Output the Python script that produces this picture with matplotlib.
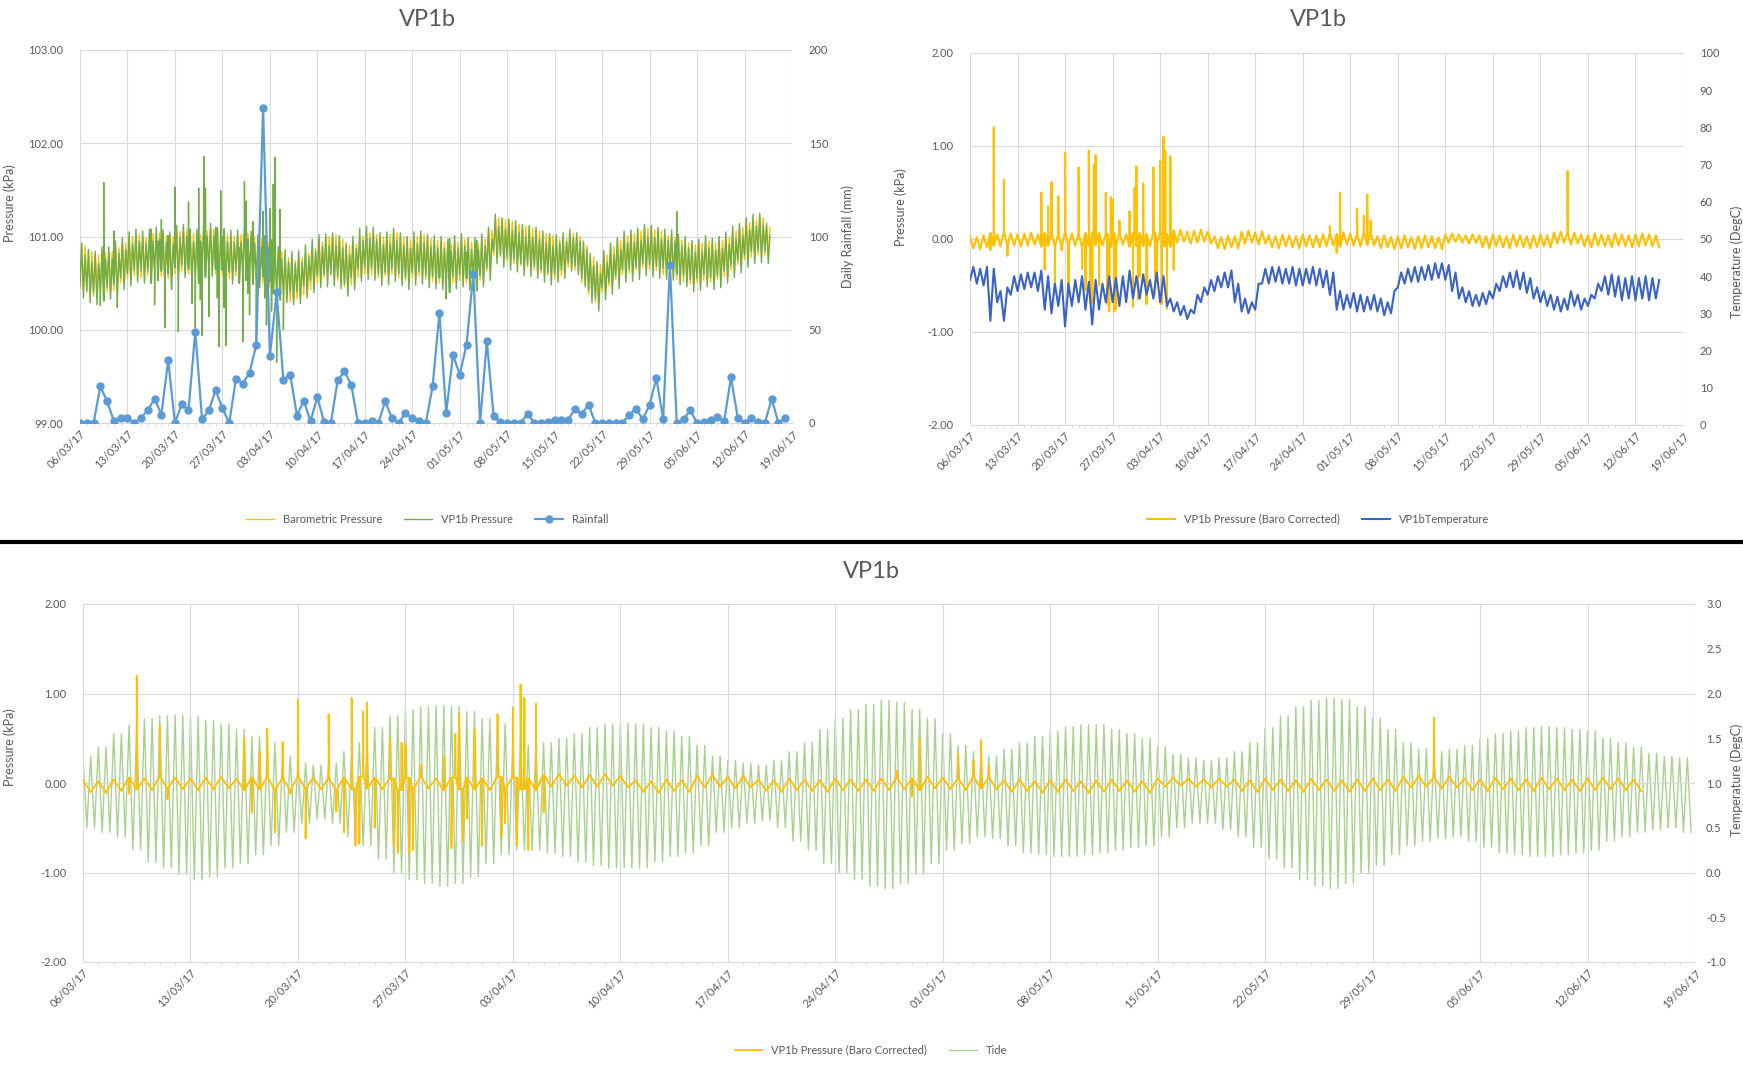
import numpy as np
import pandas as pd
import matplotlib
matplotlib.use("Agg")
import matplotlib.pyplot as plt
import matplotlib.dates as mdates
from matplotlib.ticker import FormatStrFormatter
from matplotlib.lines import Line2D

plt.rcParams["font.family"] = ["Lato", "DejaVu Sans"]

# ---- data (day 0 = 06/03/17) ----
start_date = "2017-03-06"

# daily rainfall (mm), days 0..104
rain_mm = [0, 0, 0, 19.6, 11.6, 1, 2.7, 2.7, 0, 2.7,
           7, 13, 4.5, 33.6, 0, 10, 6.8, 49, 2, 6.8,
           17.5, 8, 0, 23.6, 21, 27, 42, 169, 35.7, 70,
           22.9, 25.9, 4, 12, 1, 14, 0.4, 0, 23, 27.7,
           20.5, 0, 0, 1, 0, 11.6, 2.7, 0, 5.4, 2.7,
           1, 0, 19.6, 59, 5.4, 36.6, 26, 42, 80, 0,
           43.8, 3.6, 0.4, 0, 0, 0, 5, 0, 0, 0.4,
           1.8, 1.8, 1.8, 7.5, 5, 9.8, 0, 0, 0, 0,
           0, 4.5, 7.5, 2, 9.8, 24, 2, 84.8, 0, 2,
           6.8, 0, 0.4, 1.8, 3.2, 1, 24.6, 2.7, 0, 2.7,
           0.4, 0, 13, 0, 2.7]

# barometric pressure (kPa), daily low / high, days 0..101
baro_lo = [100.44, 100.40, 100.36, 100.38, 100.41, 100.42, 100.50, 100.55, 100.58, 100.56,
           100.58, 100.60, 100.57, 100.55, 100.60, 100.63, 100.60, 100.57, 100.62, 100.64,
           100.60, 100.58, 100.55, 100.58, 100.60, 100.56, 100.53, 100.50, 100.46, 100.40,
           100.33, 100.30, 100.33, 100.38, 100.43, 100.50, 100.56, 100.58, 100.53, 100.46,
           100.48, 100.56, 100.60, 100.58, 100.56, 100.58, 100.60, 100.56, 100.53, 100.56,
           100.58, 100.54, 100.52, 100.50, 100.48, 100.50, 100.53, 100.50, 100.48, 100.53,
           100.63, 100.80, 100.78, 100.74, 100.71, 100.69, 100.67, 100.64, 100.61, 100.59,
           100.55, 100.58, 100.67, 100.64, 100.50, 100.38, 100.30, 100.40, 100.47, 100.54,
           100.59, 100.61, 100.64, 100.67, 100.65, 100.64, 100.59, 100.57, 100.54, 100.51,
           100.49, 100.51, 100.53, 100.51, 100.54, 100.57, 100.64, 100.70, 100.75, 100.78,
           100.80, 100.80]
baro_hi = [100.90, 100.84, 100.80, 100.83, 100.84, 100.88, 100.93, 101.00, 101.02, 100.99,
           101.03, 101.04, 101.01, 101.00, 101.05, 101.07, 101.03, 101.02, 101.06, 101.08,
           101.04, 101.02, 101.00, 101.02, 101.04, 101.00, 100.97, 100.94, 100.90, 100.84,
           100.77, 100.74, 100.77, 100.82, 100.87, 100.94, 101.00, 101.02, 100.97, 100.90,
           100.92, 101.00, 101.04, 101.02, 101.00, 101.02, 101.04, 101.00, 100.97, 101.00,
           101.02, 100.98, 100.96, 100.94, 100.92, 100.94, 100.97, 100.94, 100.92, 100.97,
           101.07, 101.20, 101.18, 101.16, 101.13, 101.11, 101.09, 101.06, 101.03, 101.01,
           100.97, 100.98, 101.03, 101.00, 100.90, 100.78, 100.70, 100.80, 100.89, 100.96,
           101.01, 101.03, 101.06, 101.09, 101.07, 101.06, 101.01, 100.99, 100.96, 100.93,
           100.91, 100.93, 100.95, 100.93, 100.96, 100.99, 101.06, 101.10, 101.15, 101.18,
           101.20, 101.10]

# VP1b pressure, baro corrected (kPa): daily high / low, days 0..101
corr_hi = [0.03, 0.02, 0.04,
           0.06, 0.05, 0.07, 0.06, 0.05, 0.06, 0.07, 0.05, 0.06, 0.06, 0.05, 0.07, 0.06, 0.05,
           0.06, 0.07, 0.06, 0.05, 0.06, 0.07, 0.05, 0.06, 0.06, 0.05, 0.07, 0.06, 0.05,
           0.09, 0.10, 0.08, 0.09, 0.10, 0.08,
           0.03, 0.02, 0.04, 0.03,
           0.08, 0.09, 0.07, 0.08,
           0.04, 0.03, 0.05, 0.04, 0.03, 0.05, 0.04, 0.04, 0.05,
           0.06, 0.05, 0.07, 0.06, 0.05, 0.07, 0.06,
           0.03, 0.04, 0.02, 0.03, 0.04, 0.02, 0.03, 0.04, 0.03, 0.02,
           0.05, 0.06, 0.05, 0.04, 0.05,
           0.04, 0.03, 0.05, 0.04, 0.03, 0.05, 0.04, 0.03, 0.04, 0.05, 0.04,
           0.07, 0.08, 0.06, 0.07,
           0.05, 0.04, 0.06, 0.05, 0.04, 0.06, 0.05, 0.04, 0.05, 0.06, 0.05, 0.04]
corr_lo = [-0.10, -0.11, -0.09,
           -0.07, -0.08, -0.06, -0.07, -0.08, -0.07, -0.06, -0.08, -0.07, -0.07, -0.08, -0.06,
           -0.07, -0.08, -0.07, -0.06, -0.07, -0.08, -0.07, -0.06, -0.08, -0.07, -0.07, -0.08,
           -0.06, -0.07, -0.08,
           -0.04, -0.03, -0.05, -0.04, -0.03, -0.05,
           -0.10, -0.11, -0.09, -0.10,
           -0.05, -0.04, -0.06, -0.05,
           -0.09, -0.10, -0.08, -0.09, -0.10, -0.08, -0.09, -0.09, -0.08,
           -0.07, -0.08, -0.06, -0.07, -0.08, -0.06, -0.07,
           -0.10, -0.09, -0.11, -0.10, -0.09, -0.11, -0.10, -0.09, -0.10, -0.11,
           -0.04, -0.03, -0.04, -0.05, -0.04,
           -0.09, -0.10, -0.08, -0.09, -0.10, -0.08, -0.09, -0.10, -0.09, -0.08, -0.09,
           -0.05, -0.04, -0.06, -0.05,
           -0.08, -0.09, -0.07, -0.08, -0.09, -0.07, -0.08, -0.09, -0.08, -0.07, -0.08, -0.09]

# logger spikes in the corrected record: (day, kPa)
corr_spikes = [(3.0, -0.12), (3.5, 1.20), (5.0, 0.64), (5.5, -0.18),
               (10.5, 0.50), (11.0, -0.33), (11.5, 0.35), (12.0, 0.61), (12.5, -0.55),
               (13.0, 0.46), (13.5, -0.12), (14.0, 0.93), (14.5, -0.62),
               (16.0, 0.77), (16.5, -0.32), (17.0, -0.55), (17.5, 0.95), (17.75, -0.70),
               (18.0, -0.68), (18.25, 0.80), (18.5, 0.90), (19.0, -0.50),
               (20.0, 0.50), (20.25, -0.70), (20.5, -0.78), (20.75, 0.45), (21.0, 0.42),
               (21.25, -0.78), (21.5, -0.75), (22.0, 0.20), (23.5, 0.30), (24.0, -0.73),
               (24.25, 0.55), (24.5, 0.78), (24.75, -0.65), (25.0, -0.40), (25.5, 0.60),
               (26.0, -0.70), (27.0, 0.77), (27.25, -0.60), (27.5, -0.45), (28.0, 0.84),
               (28.25, -0.70), (28.5, 1.10), (28.75, 0.95), (29.0, -0.75), (29.5, 0.89),
               (30.0, -0.33),
               (53.0, 0.14), (54.0, -0.15), (54.5, 0.50), (57.0, 0.33), (58.0, 0.25),
               (58.5, 0.48), (59.0, 0.20), (88.0, 0.73)]

# VP1b temperature (DegC): daily low / high, days 0..101
temp_lo = [39, 38, 37.5, 28, 33, 28, 35, 36, 36.5, 37,
           36, 31, 30, 32, 26.5, 32, 33, 31, 27, 31,
           33, 33, 32, 33, 34, 34, 35, 34, 33, 32,
           30.5, 29.5, 28.5, 30, 33, 35, 36, 37, 37, 33,
           30.5, 30, 31, 38, 38, 38.5, 38, 38, 37.5, 37.5,
           38, 37.5, 37, 35, 31, 31, 31.5, 30.5, 30.5, 31,
           30.5, 29.5, 30, 37, 38, 38.5, 38.5, 39, 39, 39.5,
           39, 36, 34, 33, 32, 32, 32.5, 34, 36, 37,
           37, 36.5, 35.5, 34, 33, 32, 31, 30.5, 31, 32,
           31, 32, 34, 36, 35, 34.5, 33.5, 34, 33.5, 34,
           33.5, 34]
temp_hi = [42.5, 42, 42.5, 42, 36, 37, 40, 40.5, 41, 41,
           41.5, 40, 38, 39, 38, 39, 40, 38.5, 39, 38,
           40, 39.5, 40, 41.5, 40, 40.5, 39, 41, 40, 34,
           33, 32, 31, 35, 37, 39, 40, 41, 41.5, 38,
           34, 33, 38, 42, 42.5, 42.5, 42, 42.5, 42, 42,
           42.5, 42, 41.5, 41, 36, 35, 35.5, 35, 34.5, 35,
           34, 33, 36, 41, 42, 42.5, 42.5, 43, 43.5, 43.5,
           43, 41, 37, 36, 35, 35.5, 36, 38, 40, 41,
           41.5, 41, 39.5, 37, 36, 35, 34.5, 34, 36, 35,
           34, 35, 38, 40, 40.5, 40, 39.5, 40, 39.5, 40,
           39.5, 39]

# tide (right-hand scale): daily high / low water, days 0..104
tide_hi = [1.30, 1.40, 1.55, 1.65, 1.72, 1.75, 1.76, 1.74, 1.70, 1.66,
           1.60, 1.52, 1.45, 1.30, 1.22, 1.20, 1.22, 1.35, 1.45, 1.62,
           1.75, 1.82, 1.85, 1.86, 1.85, 1.80, 1.72, 1.66, 1.50, 1.42,
           1.45, 1.50, 1.55, 1.62, 1.66, 1.67, 1.66, 1.62, 1.58, 1.52,
           1.42, 1.30, 1.25, 1.22, 1.20, 1.25, 1.35, 1.45, 1.60, 1.72,
           1.82, 1.88, 1.92, 1.90, 1.82, 1.72, 1.55, 1.42, 1.35, 1.30,
           1.38, 1.45, 1.52, 1.58, 1.63, 1.65, 1.65, 1.60, 1.55, 1.50,
           1.40, 1.32, 1.28, 1.25, 1.28, 1.35, 1.45, 1.62, 1.75, 1.85,
           1.92, 1.95, 1.93, 1.85, 1.72, 1.60, 1.45, 1.38, 1.35, 1.38,
           1.42, 1.50, 1.55, 1.58, 1.62, 1.63, 1.62, 1.60, 1.58, 1.50,
           1.45, 1.40, 1.33, 1.30, 1.28]
tide_lo = [0.50, 0.45, 0.40, 0.25, 0.12, 0.05, -0.02, -0.08, -0.05, 0.05,
           0.10, 0.20, 0.30, 0.45, 0.55, 0.60, 0.55, 0.40, 0.30, 0.15,
           0.00, -0.08, -0.12, -0.15, -0.12, -0.05, 0.10, 0.20, 0.25, 0.25,
           0.22, 0.18, 0.12, 0.08, 0.05, 0.05, 0.05, 0.12, 0.18, 0.22,
           0.30, 0.45, 0.50, 0.55, 0.58, 0.50, 0.35, 0.25, 0.10, 0.00,
           -0.08, -0.15, -0.18, -0.12, -0.02, 0.10, 0.25, 0.32, 0.40, 0.38,
           0.30, 0.22, 0.20, 0.18, 0.18, 0.20, 0.22, 0.25, 0.28, 0.30,
           0.40, 0.50, 0.55, 0.55, 0.48, 0.40, 0.28, 0.15, 0.05, -0.08,
           -0.15, -0.18, -0.12, 0.00, 0.08, 0.20, 0.30, 0.35, 0.38, 0.40,
           0.35, 0.28, 0.22, 0.20, 0.18, 0.18, 0.20, 0.22, 0.25, 0.35,
           0.40, 0.45, 0.48, 0.50, 0.45]

# ---- build the time series ----
t0 = pd.Timestamp(start_date)


def to_dates(days):
    return t0 + pd.to_timedelta(np.asarray(days, dtype=float), unit="D")


def add_spikes(t_grid, base, spikes, offset=None):
    # each spike is a short excursion from the nearest logged value
    ts, vs = [t_grid], [base]
    for day, val in spikes:
        i = int(np.argmin(np.abs(t_grid - day)))
        lift = 0.0 if offset is None else offset[i]
        ts.append([day - 0.03, day, day + 0.03])
        vs.append([base[i], val + lift, base[i]])
    t = np.concatenate(ts)
    v = np.concatenate(vs)
    order = np.argsort(t, kind="stable")
    return t[order], v[order]


rain_dates = to_dates(np.arange(len(rain_mm)))

n_days = len(baro_hi)
half_days = np.arange(2 * n_days) / 2.0
quarter_days = np.arange(4 * n_days) / 4.0

corr = np.ravel(np.column_stack([corr_hi, corr_lo]))
t_corr, corr_s = add_spikes(half_days, corr, corr_spikes)

baro4 = np.ravel(np.column_stack([baro_lo, baro_hi, baro_lo, baro_hi]))
vp1b4 = baro4 + np.repeat(corr, 2)
t_vp1b, vp1b_s = add_spikes(quarter_days, vp1b4, corr_spikes, offset=baro4)

temp = np.ravel(np.column_stack([temp_lo, temp_hi]))

tide = np.ravel(np.column_stack([tide_hi, tide_lo, tide_hi, tide_lo]))
tide_dates = to_dates(np.arange(len(tide)) / 4.0)

# ---- styling ----
YELLOW = "#ffc000"
GREEN = "#70ad47"
RAINBLUE = "#5b9bd5"
TEMPBLUE = "#3b63c4"
TIDEGREEN = "#a9d18e"
GRID = "#d9d9d9"
TXT = "#595959"

W, H = 1743, 1071
fig = plt.figure(figsize=(W / 100, H / 100), dpi=100)


def box(l, t, r, b):
    return [l / W, 1 - b / H, (r - l) / W, (b - t) / H]


x_min = t0
x_max = t0 + pd.Timedelta(days=105)
week_ticks = pd.date_range(t0, x_max, freq="7D")


def style_main(ax, ylim, step, fmt):
    ax.set_xlim(x_min, x_max)
    ax.set_ylim(*ylim)
    ax.set_yticks(np.arange(ylim[0], ylim[1] + step / 2, step))
    ax.yaxis.set_major_formatter(FormatStrFormatter(fmt))
    ax.set_xticks(week_ticks)
    ax.xaxis.set_major_formatter(mdates.DateFormatter("%d/%m/%y"))
    ax.xaxis.set_minor_locator(mdates.DayLocator())
    ax.grid(True, which="major", color=GRID, lw=0.8)
    ax.set_axisbelow(True)
    for s in ax.spines.values():
        s.set_visible(False)
    ax.spines["bottom"].set_visible(True)
    ax.spines["bottom"].set_color(GRID)
    ax.tick_params(axis="y", length=0, labelsize=8, colors=TXT, pad=12)
    ax.tick_params(axis="x", which="major", length=0, labelsize=8, colors=TXT, pad=4)
    ax.tick_params(axis="x", which="minor", length=2.5, color=GRID)
    for lab in ax.get_xticklabels():
        lab.set_rotation(45)
        lab.set_ha("right")
        lab.set_rotation_mode("anchor")


def style_twin(ax, ylim, step, fmt, pad=14):
    ax.set_ylim(*ylim)
    ax.set_yticks(np.arange(ylim[0], ylim[1] + step / 2, step))
    ax.yaxis.set_major_formatter(FormatStrFormatter(fmt))
    for s in ax.spines.values():
        s.set_visible(False)
    ax.tick_params(axis="y", length=0, labelsize=8, colors=TXT, pad=pad)


def legend(handles, labels, cx, cy, ncol):
    fig.legend(handles, labels, loc="center", bbox_to_anchor=(cx / W, 1 - cy / H),
               ncol=ncol, frameon=False, fontsize=8, labelcolor=TXT,
               handlelength=2.5, columnspacing=2.0)


# ---- top left: pressure + rainfall ----
ax1 = fig.add_axes(box(80, 50, 792, 423))
ax1.plot(to_dates(quarter_days), baro4, color=YELLOW, lw=1.0, label="Barometric Pressure")
ax1.plot(to_dates(t_vp1b), vp1b_s, color=GREEN, lw=1.0, label="VP1b Pressure")
style_main(ax1, (99, 103), 1, "%.2f")
ax1.set_ylabel("Pressure (kPa)", fontsize=9, color=TXT)
ax1.yaxis.set_label_coords(-0.09, 0.59)
ax2 = ax1.twinx()
ax2.plot(rain_dates, rain_mm, color=RAINBLUE, lw=1.6, marker="o", ms=5,
         label="Rainfall")
style_twin(ax2, (0, 200), 50, "%d", pad=12)
ax2.set_ylabel("Daily Rainfall (mm)", fontsize=9, color=TXT)
ax2.yaxis.set_label_coords(1.069, 0.5)
h1, l1 = ax1.get_legend_handles_labels()
h2, l2 = ax2.get_legend_handles_labels()
legend(h1 + h2, l1 + l2, 427, 519, 3)
fig.text(427 / W, 1 - 19 / H, "VP1b", ha="center", va="center", fontsize=17, color=TXT)

# ---- top right: corrected pressure + temperature ----
ax3 = fig.add_axes(box(970, 53, 1683, 425))
ax3.plot(to_dates(t_corr), corr_s, color=YELLOW, lw=1.5,
         label="VP1b Pressure (Baro Corrected)")
style_main(ax3, (-2, 2), 1, "%.2f")
ax3.set_ylabel("Pressure (kPa)", fontsize=9, color=TXT)
ax3.yaxis.set_label_coords(-0.088, 0.586)
ax4 = ax3.twinx()
ax4.plot(to_dates(half_days), temp, color=TEMPBLUE, lw=1.5, label="VP1bTemperature")
style_twin(ax4, (0, 100), 10, "%d", pad=12)
ax4.set_ylabel("Temperature (DegC)", fontsize=9, color=TXT)
ax4.yaxis.set_label_coords(1.067, 0.44)
h3, l3 = ax3.get_legend_handles_labels()
h4, l4 = ax4.get_legend_handles_labels()
legend(h3 + h4, l3 + l4, 1318, 519, 2)
fig.text(1318 / W, 1 - 19 / H, "VP1b", ha="center", va="center", fontsize=17, color=TXT)

# separator between the two exported charts
fig.add_artist(Line2D([0, 1], [1 - 542 / H] * 2, color="black", lw=3,
                      transform=fig.transFigure))

# ---- bottom: corrected pressure + tide ----
ax5 = fig.add_axes(box(83, 604, 1695, 962))
ax5.plot(to_dates(t_corr), corr_s, color=YELLOW, lw=1.3,
         label="VP1b Pressure (Baro Corrected)")
style_main(ax5, (-2, 2), 1, "%.2f")
ax5.set_ylabel("Pressure (kPa)", fontsize=9, color=TXT)
ax5.yaxis.set_label_coords(-0.0416, 0.60)
ax6 = ax5.twinx()
ax6.plot(tide_dates, tide, color=TIDEGREEN, lw=1.0, label="Tide")
style_twin(ax6, (-1, 3), 0.5, "%.1f", pad=8)
ax6.set_ylabel("Temperature (DegC)", fontsize=9, color=TXT)
ax6.yaxis.set_label_coords(1.022, 0.51)
ax5.set_zorder(ax6.get_zorder() + 1)
ax5.patch.set_visible(False)
h5, l5 = ax5.get_legend_handles_labels()
h6, l6 = ax6.get_legend_handles_labels()
legend(h5 + h6, l5 + l6, 871, 1050, 2)
fig.text(871 / W, 1 - 572 / H, "VP1b", ha="center", va="center", fontsize=17, color=TXT)

fig.savefig("out.png", dpi=100, facecolor="white")
